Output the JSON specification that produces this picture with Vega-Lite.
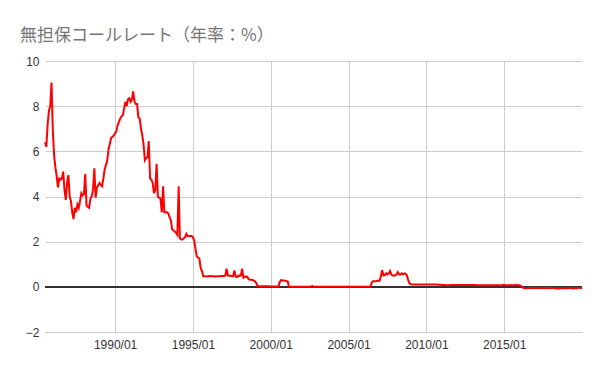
{
  "$schema": "https://vega.github.io/schema/vega-lite/v6.json",
  "width": 537,
  "height": 271,
  "autosize": {"type": "none"},
  "padding": {"left": 45, "top": 61, "right": 18, "bottom": 39},
  "background": "white",
  "title": {
    "text": "無担保コールレート（年率：%）",
    "anchor": "start",
    "frame": "group",
    "dx": -25,
    "offset": 10,
    "font": "Noto Sans CJK JP",
    "fontSize": 17,
    "fontWeight": "normal",
    "color": "#757575"
  },
  "data": {
    "values": [
      {"d":"1985-07-01","v":6.4},{"d":"1985-08-01","v":6.2},{"d":"1985-09-01","v":7.2},{"d":"1985-10-01","v":7.8},{"d":"1985-11-01","v":8.0},{"d":"1985-12-01","v":9.05},
      {"d":"1986-01-01","v":6.9},{"d":"1986-02-01","v":5.8},{"d":"1986-03-01","v":5.3},{"d":"1986-04-01","v":4.9},{"d":"1986-05-01","v":4.4},{"d":"1986-06-01","v":4.8},{"d":"1986-07-01","v":4.75},{"d":"1986-08-01","v":4.8},{"d":"1986-09-01","v":5.1},{"d":"1986-10-01","v":4.3},{"d":"1986-11-01","v":3.85},{"d":"1986-12-01","v":4.6},
      {"d":"1987-01-01","v":4.95},{"d":"1987-02-01","v":4.0},{"d":"1987-03-01","v":3.8},{"d":"1987-04-01","v":3.3},{"d":"1987-05-01","v":3.0},{"d":"1987-06-01","v":3.5},{"d":"1987-07-01","v":3.3},{"d":"1987-08-01","v":3.65},{"d":"1987-09-01","v":3.5},{"d":"1987-10-01","v":3.8},{"d":"1987-11-01","v":4.15},{"d":"1987-12-01","v":4.05},
      {"d":"1988-01-01","v":4.1},{"d":"1988-02-01","v":5.0},{"d":"1988-03-01","v":3.6},{"d":"1988-04-01","v":3.55},{"d":"1988-05-01","v":3.5},{"d":"1988-06-01","v":3.9},{"d":"1988-07-01","v":4.0},{"d":"1988-08-01","v":4.3},{"d":"1988-09-01","v":5.25},{"d":"1988-10-01","v":3.95},{"d":"1988-11-01","v":4.4},{"d":"1988-12-01","v":4.5},
      {"d":"1989-01-01","v":4.6},{"d":"1989-02-01","v":4.5},{"d":"1989-03-01","v":4.45},{"d":"1989-04-01","v":4.8},{"d":"1989-05-01","v":5.2},{"d":"1989-06-01","v":5.4},{"d":"1989-07-01","v":5.6},{"d":"1989-08-01","v":6.1},{"d":"1989-09-01","v":6.35},{"d":"1989-10-01","v":6.6},{"d":"1989-11-01","v":6.65},{"d":"1989-12-01","v":6.7},
      {"d":"1990-01-01","v":6.8},{"d":"1990-02-01","v":6.9},{"d":"1990-03-01","v":7.15},{"d":"1990-04-01","v":7.3},{"d":"1990-05-01","v":7.45},{"d":"1990-06-01","v":7.55},{"d":"1990-07-01","v":7.6},{"d":"1990-08-01","v":7.9},{"d":"1990-09-01","v":8.2},{"d":"1990-10-01","v":8.0},{"d":"1990-11-01","v":8.3},{"d":"1990-12-01","v":8.35},
      {"d":"1991-01-01","v":8.2},{"d":"1991-02-01","v":8.3},{"d":"1991-03-01","v":8.65},{"d":"1991-04-01","v":8.2},{"d":"1991-05-01","v":8.1},{"d":"1991-06-01","v":8.1},{"d":"1991-07-01","v":7.5},{"d":"1991-08-01","v":7.45},{"d":"1991-09-01","v":7.0},{"d":"1991-10-01","v":6.7},{"d":"1991-11-01","v":6.3},{"d":"1991-12-01","v":5.6},
      {"d":"1992-01-01","v":5.7},{"d":"1992-02-01","v":5.75},{"d":"1992-03-01","v":6.45},{"d":"1992-04-01","v":4.8},{"d":"1992-05-01","v":4.75},{"d":"1992-06-01","v":4.6},{"d":"1992-07-01","v":4.15},{"d":"1992-08-01","v":4.3},{"d":"1992-09-01","v":5.45},{"d":"1992-10-01","v":4.0},{"d":"1992-11-01","v":3.95},{"d":"1992-12-01","v":3.9},
      {"d":"1993-01-01","v":3.3},{"d":"1993-02-01","v":4.45},{"d":"1993-03-01","v":3.3},{"d":"1993-04-01","v":3.3},{"d":"1993-05-01","v":3.3},{"d":"1993-06-01","v":3.25},{"d":"1993-07-01","v":3.1},{"d":"1993-08-01","v":2.95},{"d":"1993-09-01","v":2.55},{"d":"1993-10-01","v":2.5},{"d":"1993-11-01","v":2.45},{"d":"1993-12-01","v":2.4},
      {"d":"1994-01-01","v":2.3},{"d":"1994-02-01","v":4.45},{"d":"1994-03-01","v":2.15},{"d":"1994-04-01","v":2.1},{"d":"1994-05-01","v":2.1},{"d":"1994-06-01","v":2.15},{"d":"1994-07-01","v":2.2},{"d":"1994-08-01","v":2.35},{"d":"1994-09-01","v":2.25},{"d":"1994-10-01","v":2.25},{"d":"1994-11-01","v":2.25},{"d":"1994-12-01","v":2.25},
      {"d":"1995-01-01","v":2.2},{"d":"1995-02-01","v":2.05},{"d":"1995-03-01","v":1.7},{"d":"1995-04-01","v":1.35},{"d":"1995-05-01","v":1.3},{"d":"1995-06-01","v":1.25},{"d":"1995-07-01","v":0.85},{"d":"1995-08-01","v":0.7},{"d":"1995-09-01","v":0.47},{"d":"1995-10-01","v":0.47},{"d":"1995-11-01","v":0.47},{"d":"1995-12-01","v":0.46},
      {"d":"1996-01-01","v":0.48},{"d":"1996-02-01","v":0.47},{"d":"1996-03-01","v":0.48},{"d":"1996-04-01","v":0.47},{"d":"1996-05-01","v":0.47},{"d":"1996-06-01","v":0.46},{"d":"1996-07-01","v":0.46},{"d":"1996-08-01","v":0.47},{"d":"1996-09-01","v":0.47},{"d":"1996-10-01","v":0.47},{"d":"1996-11-01","v":0.48},{"d":"1996-12-01","v":0.48},
      {"d":"1997-01-01","v":0.48},{"d":"1997-02-01","v":0.5},{"d":"1997-03-01","v":0.8},{"d":"1997-04-01","v":0.5},{"d":"1997-05-01","v":0.5},{"d":"1997-06-01","v":0.48},{"d":"1997-07-01","v":0.48},{"d":"1997-08-01","v":0.47},{"d":"1997-09-01","v":0.72},{"d":"1997-10-01","v":0.45},{"d":"1997-11-01","v":0.43},{"d":"1997-12-01","v":0.5},
      {"d":"1998-01-01","v":0.48},{"d":"1998-02-01","v":0.5},{"d":"1998-03-01","v":0.8},{"d":"1998-04-01","v":0.4},{"d":"1998-05-01","v":0.43},{"d":"1998-06-01","v":0.46},{"d":"1998-07-01","v":0.44},{"d":"1998-08-01","v":0.34},{"d":"1998-09-01","v":0.31},{"d":"1998-10-01","v":0.31},{"d":"1998-11-01","v":0.3},{"d":"1998-12-01","v":0.27},
      {"d":"1999-01-01","v":0.24},{"d":"1999-02-01","v":0.15},{"d":"1999-03-01","v":0.03},{"d":"1999-04-01","v":0.03},{"d":"1999-05-01","v":0.03},{"d":"1999-06-01","v":0.03},{"d":"1999-07-01","v":0.03},{"d":"1999-08-01","v":0.03},{"d":"1999-09-01","v":0.03},{"d":"1999-10-01","v":0.03},{"d":"1999-11-01","v":0.03},{"d":"1999-12-01","v":0.03},
      {"d":"2000-01-01","v":0.02},{"d":"2000-02-01","v":0.02},{"d":"2000-03-01","v":0.02},{"d":"2000-04-01","v":0.02},{"d":"2000-05-01","v":0.02},{"d":"2000-06-01","v":0.02},{"d":"2000-07-01","v":0.02},{"d":"2000-08-01","v":0.22},{"d":"2000-09-01","v":0.3},{"d":"2000-10-01","v":0.28},{"d":"2000-11-01","v":0.28},{"d":"2000-12-01","v":0.27},
      {"d":"2001-01-01","v":0.25},{"d":"2001-02-01","v":0.25},{"d":"2001-03-01","v":0.02},{"d":"2001-04-01","v":0.002},{"d":"2001-05-01","v":0.002},{"d":"2001-06-01","v":0.002},{"d":"2001-07-01","v":0.002},{"d":"2001-08-01","v":0.002},{"d":"2001-09-01","v":0.002},{"d":"2001-10-01","v":0.002},{"d":"2001-11-01","v":0.002},{"d":"2001-12-01","v":0.002},
      {"d":"2002-01-01","v":0.002},{"d":"2002-02-01","v":0.002},{"d":"2002-03-01","v":0.002},{"d":"2002-04-01","v":0.002},{"d":"2002-05-01","v":0.002},{"d":"2002-06-01","v":0.002},{"d":"2002-07-01","v":0.002},{"d":"2002-08-01","v":0.002},{"d":"2002-09-01","v":0.04},{"d":"2002-10-01","v":0.002},{"d":"2002-11-01","v":0.002},{"d":"2002-12-01","v":0.002},
      {"d":"2003-01-01","v":0.001},{"d":"2003-02-01","v":0.001},{"d":"2003-03-01","v":0.001},{"d":"2003-04-01","v":0.001},{"d":"2003-05-01","v":0.001},{"d":"2003-06-01","v":0.001},{"d":"2003-07-01","v":0.001},{"d":"2003-08-01","v":0.001},{"d":"2003-09-01","v":0.001},{"d":"2003-10-01","v":0.001},{"d":"2003-11-01","v":0.001},{"d":"2003-12-01","v":0.001},
      {"d":"2004-01-01","v":0.001},{"d":"2004-02-01","v":0.001},{"d":"2004-03-01","v":0.001},{"d":"2004-04-01","v":0.001},{"d":"2004-05-01","v":0.001},{"d":"2004-06-01","v":0.001},{"d":"2004-07-01","v":0.001},{"d":"2004-08-01","v":0.001},{"d":"2004-09-01","v":0.001},{"d":"2004-10-01","v":0.001},{"d":"2004-11-01","v":0.001},{"d":"2004-12-01","v":0.001},
      {"d":"2005-01-01","v":0.001},{"d":"2005-02-01","v":0.001},{"d":"2005-03-01","v":0.001},{"d":"2005-04-01","v":0.001},{"d":"2005-05-01","v":0.001},{"d":"2005-06-01","v":0.001},{"d":"2005-07-01","v":0.001},{"d":"2005-08-01","v":0.001},{"d":"2005-09-01","v":0.001},{"d":"2005-10-01","v":0.001},{"d":"2005-11-01","v":0.001},{"d":"2005-12-01","v":0.001},
      {"d":"2006-01-01","v":0.001},{"d":"2006-02-01","v":0.001},{"d":"2006-03-01","v":0.001},{"d":"2006-04-01","v":0.001},{"d":"2006-05-01","v":0.001},{"d":"2006-06-01","v":0.001},{"d":"2006-07-01","v":0.2},{"d":"2006-08-01","v":0.25},{"d":"2006-09-01","v":0.25},{"d":"2006-10-01","v":0.25},{"d":"2006-11-01","v":0.27},{"d":"2006-12-01","v":0.27},
      {"d":"2007-01-01","v":0.27},{"d":"2007-02-01","v":0.5},{"d":"2007-03-01","v":0.73},{"d":"2007-04-01","v":0.5},{"d":"2007-05-01","v":0.52},{"d":"2007-06-01","v":0.6},{"d":"2007-07-01","v":0.55},{"d":"2007-08-01","v":0.6},{"d":"2007-09-01","v":0.7},{"d":"2007-10-01","v":0.55},{"d":"2007-11-01","v":0.5},{"d":"2007-12-01","v":0.5},
      {"d":"2008-01-01","v":0.5},{"d":"2008-02-01","v":0.55},{"d":"2008-03-01","v":0.65},{"d":"2008-04-01","v":0.55},{"d":"2008-05-01","v":0.55},{"d":"2008-06-01","v":0.6},{"d":"2008-07-01","v":0.55},{"d":"2008-08-01","v":0.6},{"d":"2008-09-01","v":0.58},{"d":"2008-10-01","v":0.5},{"d":"2008-11-01","v":0.3},{"d":"2008-12-01","v":0.15},
      {"d":"2009-01-01","v":0.12},{"d":"2009-02-01","v":0.1},{"d":"2009-03-01","v":0.1},{"d":"2009-04-01","v":0.1},{"d":"2009-05-01","v":0.1},{"d":"2009-06-01","v":0.1},{"d":"2009-07-01","v":0.1},{"d":"2009-08-01","v":0.1},{"d":"2009-09-01","v":0.1},{"d":"2009-10-01","v":0.1},{"d":"2009-11-01","v":0.1},{"d":"2009-12-01","v":0.1},
      {"d":"2010-01-01","v":0.1},{"d":"2010-02-01","v":0.1},{"d":"2010-03-01","v":0.1},{"d":"2010-04-01","v":0.1},{"d":"2010-05-01","v":0.1},{"d":"2010-06-01","v":0.1},{"d":"2010-07-01","v":0.1},{"d":"2010-08-01","v":0.1},{"d":"2010-09-01","v":0.1},{"d":"2010-10-01","v":0.09},{"d":"2010-11-01","v":0.09},{"d":"2010-12-01","v":0.09},
      {"d":"2011-01-01","v":0.08},{"d":"2011-02-01","v":0.08},{"d":"2011-03-01","v":0.08},{"d":"2011-04-01","v":0.07},{"d":"2011-05-01","v":0.07},{"d":"2011-06-01","v":0.07},{"d":"2011-07-01","v":0.07},{"d":"2011-08-01","v":0.08},{"d":"2011-09-01","v":0.08},{"d":"2011-10-01","v":0.08},{"d":"2011-11-01","v":0.08},{"d":"2011-12-01","v":0.08},
      {"d":"2012-01-01","v":0.08},{"d":"2012-02-01","v":0.08},{"d":"2012-03-01","v":0.08},{"d":"2012-04-01","v":0.08},{"d":"2012-05-01","v":0.08},{"d":"2012-06-01","v":0.08},{"d":"2012-07-01","v":0.08},{"d":"2012-08-01","v":0.08},{"d":"2012-09-01","v":0.08},{"d":"2012-10-01","v":0.08},{"d":"2012-11-01","v":0.08},{"d":"2012-12-01","v":0.08},
      {"d":"2013-01-01","v":0.08},{"d":"2013-02-01","v":0.08},{"d":"2013-03-01","v":0.08},{"d":"2013-04-01","v":0.07},{"d":"2013-05-01","v":0.07},{"d":"2013-06-01","v":0.07},{"d":"2013-07-01","v":0.07},{"d":"2013-08-01","v":0.07},{"d":"2013-09-01","v":0.07},{"d":"2013-10-01","v":0.07},{"d":"2013-11-01","v":0.07},{"d":"2013-12-01","v":0.07},
      {"d":"2014-01-01","v":0.07},{"d":"2014-02-01","v":0.07},{"d":"2014-03-01","v":0.07},{"d":"2014-04-01","v":0.07},{"d":"2014-05-01","v":0.07},{"d":"2014-06-01","v":0.07},{"d":"2014-07-01","v":0.07},{"d":"2014-08-01","v":0.07},{"d":"2014-09-01","v":0.07},{"d":"2014-10-01","v":0.06},{"d":"2014-11-01","v":0.07},{"d":"2014-12-01","v":0.09},
      {"d":"2015-01-01","v":0.07},{"d":"2015-02-01","v":0.08},{"d":"2015-03-01","v":0.06},{"d":"2015-04-01","v":0.07},{"d":"2015-05-01","v":0.07},{"d":"2015-06-01","v":0.08},{"d":"2015-07-01","v":0.07},{"d":"2015-08-01","v":0.07},{"d":"2015-09-01","v":0.08},{"d":"2015-10-01","v":0.07},{"d":"2015-11-01","v":0.08},{"d":"2015-12-01","v":0.07},
      {"d":"2016-01-01","v":0.07},{"d":"2016-02-01","v":0.03},{"d":"2016-03-01","v":-0.01},{"d":"2016-04-01","v":-0.05},{"d":"2016-05-01","v":-0.06},{"d":"2016-06-01","v":-0.06},{"d":"2016-07-01","v":-0.05},{"d":"2016-08-01","v":-0.05},{"d":"2016-09-01","v":-0.05},{"d":"2016-10-01","v":-0.05},{"d":"2016-11-01","v":-0.05},{"d":"2016-12-01","v":-0.05},
      {"d":"2017-01-01","v":-0.05},{"d":"2017-02-01","v":-0.05},{"d":"2017-03-01","v":-0.04},{"d":"2017-04-01","v":-0.05},{"d":"2017-05-01","v":-0.05},{"d":"2017-06-01","v":-0.05},{"d":"2017-07-01","v":-0.05},{"d":"2017-08-01","v":-0.05},{"d":"2017-09-01","v":-0.05},{"d":"2017-10-01","v":-0.05},{"d":"2017-11-01","v":-0.05},{"d":"2017-12-01","v":-0.05},
      {"d":"2018-01-01","v":-0.05},{"d":"2018-02-01","v":-0.05},{"d":"2018-03-01","v":-0.05},{"d":"2018-04-01","v":-0.06},{"d":"2018-05-01","v":-0.06},{"d":"2018-06-01","v":-0.07},{"d":"2018-07-01","v":-0.07},{"d":"2018-08-01","v":-0.06},{"d":"2018-09-01","v":-0.06},{"d":"2018-10-01","v":-0.06},{"d":"2018-11-01","v":-0.06},{"d":"2018-12-01","v":-0.06},
      {"d":"2019-01-01","v":-0.06},{"d":"2019-02-01","v":-0.05},{"d":"2019-03-01","v":-0.04},{"d":"2019-04-01","v":-0.05},{"d":"2019-05-01","v":-0.06},{"d":"2019-06-01","v":-0.07},{"d":"2019-07-01","v":-0.06},{"d":"2019-08-01","v":-0.05},{"d":"2019-09-01","v":-0.06},{"d":"2019-10-01","v":-0.04},{"d":"2019-11-01","v":-0.04},{"d":"2019-12-01","v":-0.05},
      {"d":"2020-01-01","v":-0.05}
    ]
  },
  "encoding": {
    "x": {
      "field": "d",
      "type": "temporal",
      "title": null,
      "scale": {
        "type": "utc",
        "domain": [
          {"year": 1985, "month": 7, "date": 1, "utc": true},
          {"year": 2020, "month": 1, "date": 1, "utc": true}
        ],
        "nice": false
      },
      "axis": {
        "values": [
          {"year": 1990, "month": 1, "date": 1, "utc": true},
          {"year": 1995, "month": 1, "date": 1, "utc": true},
          {"year": 2000, "month": 1, "date": 1, "utc": true},
          {"year": 2005, "month": 1, "date": 1, "utc": true},
          {"year": 2010, "month": 1, "date": 1, "utc": true},
          {"year": 2015, "month": 1, "date": 1, "utc": true}
        ],
        "format": "%Y/%m",
        "labelPadding": 7,
        "labelFlush": false,
        "labelOverlap": false
      }
    },
    "y": {
      "field": "v",
      "type": "quantitative",
      "title": null,
      "scale": {"domain": [-2, 10], "nice": false, "zero": false},
      "axis": {"values": [-2, 0, 2, 4, 6, 8, 10], "labelPadding": 6}
    }
  },
  "layer": [
    {
      "mark": {"type": "rule", "color": "#333333", "strokeWidth": 1},
      "encoding": {"y": {"datum": 0}, "x": null}
    },
    {
      "mark": {"type": "line", "color": "#ff0000", "strokeWidth": 2, "interpolate": "linear"}
    }
  ],
  "config": {
    "view": {"stroke": null},
    "axis": {
      "domain": false,
      "ticks": false,
      "grid": true,
      "gridColor": "#cccccc",
      "gridWidth": 1,
      "labelFont": "Liberation Sans",
      "labelFontSize": 12,
      "labelColor": "#333333"
    }
  }
}
